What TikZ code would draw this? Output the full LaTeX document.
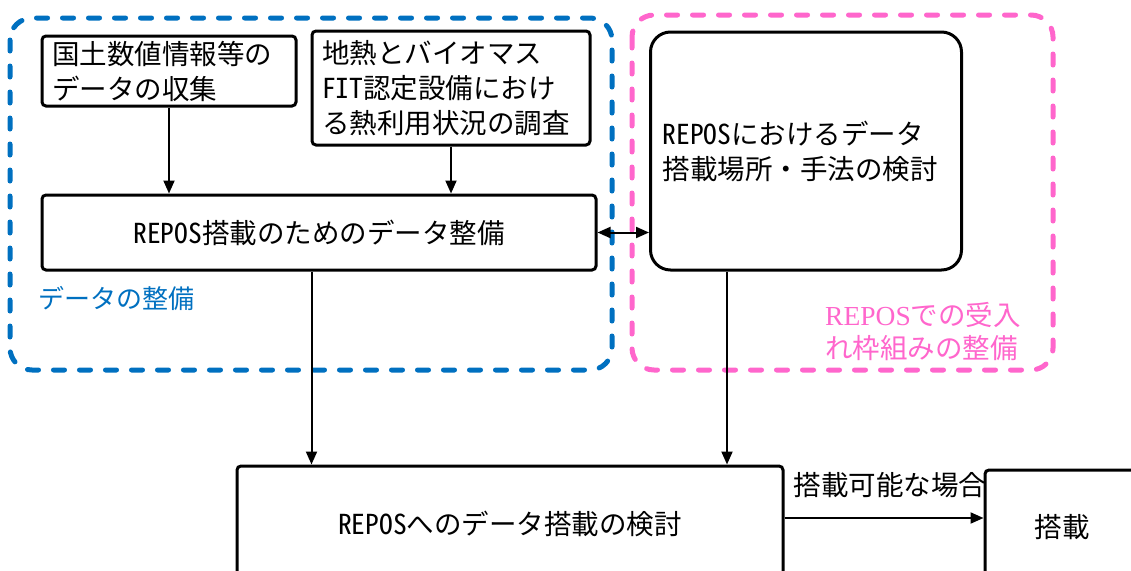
\documentclass[tikz,border=0pt]{standalone}
\usepackage{fontspec}
\setmainfont{Noto Sans CJK JP}
\newfontfamily\hwfont{Noto Sans CJK JP}[RawFeature=+hwid]
\newfontfamily\reposserif{Liberation Serif}
\newcommand\hw[1]{{\hwfont #1}}
\usepackage{xcolor}
\usetikzlibrary{arrows.meta,positioning}
\definecolor{dblue}{RGB}{0,112,192}
\definecolor{dpink}{RGB}{255,102,204}

\begin{document}
\begin{tikzpicture}[x=1pt,y=-1pt,>={Triangle[length=13pt,width=11pt]},
    font=\fontsize{27.5}{35}\selectfont]
  \tikzstyle{box}=[draw,line width=3pt,rounded corners=4pt,fill=white,inner sep=0pt]
  \tikzstyle{group}=[line width=5pt,dash pattern=on 11pt off 15pt,line cap=round,rounded corners=22pt]
  \tikzstyle{flow}=[->,line width=2pt]
  \useasboundingbox (0,0) rectangle (1131,570);
  \clip (0,0) rectangle (1131,570);
  % groups
  \draw[group,dblue] (10,18) rectangle (612,370);
  \draw[group,dpink] (632,15) rectangle (1053,370);
  \node[dblue,anchor=west,inner sep=0pt,font=\fontsize{26}{30}\selectfont] (g_data) at (38,298) {データの整備};
  \node[dpink,anchor=north west,align=left,inner sep=0pt,font=\fontsize{27.5}{33}\selectfont] (g_repos) at (825,302)
    {{\reposserif REPOS}での受入\\れ枠組みの整備};
  % boxes
  \node[box,text width=234pt,inner xsep=10pt,minimum height=70pt,align=left] (collect) at (169,71)
    {国土数値情報等の\\データの収集};
  \node[box,text width=258pt,inner xsep=10pt,minimum height=114pt,align=left] (survey) at (451,88)
    {地熱とバイオマス\\\hw{FIT}認定設備におけ\\る熱利用状況の調査};
  \node[box,minimum width=554pt,minimum height=75pt] (prep) at (319,232.5)
    {\hw{REPOS}搭載のためのデータ整備};
  \node[box,rounded corners=20pt,text width=287pt,inner xsep=12pt,minimum height=238pt,align=left] (site) at (806,151)
    {\hw{REPOS}におけるデータ\\搭載場所・手法の検討};
  \node[box,minimum width=546pt,minimum height=116pt] (review) at (510,524)
    {\hw{REPOS}へのデータ搭載の検討};
  \node[box,minimum width=154pt,minimum height=114pt] (load) at (1062,527) {搭載};
  % connectors
  \draw[flow] (collect.south) -- (collect.south |- prep.north);
  \draw[flow] (survey.south) -- (survey.south |- prep.north);
  \draw[<->,line width=2pt] (prep.east) -- (site.west |- prep.east);
  \draw[flow] ([xshift=271pt]prep.south west) -- ([xshift=271pt]prep.south west |- review.north);
  \draw[flow] ([xshift=78pt]site.south west) -- ([xshift=78pt]site.south west |- review.north);
  \draw[flow] ([yshift=6pt]review.east) -- ([yshift=6pt]review.east -| load.west)
    node[midway,above=19pt,inner sep=0pt,xshift=6pt] {搭載可能な場合};
\end{tikzpicture}
\end{document}
